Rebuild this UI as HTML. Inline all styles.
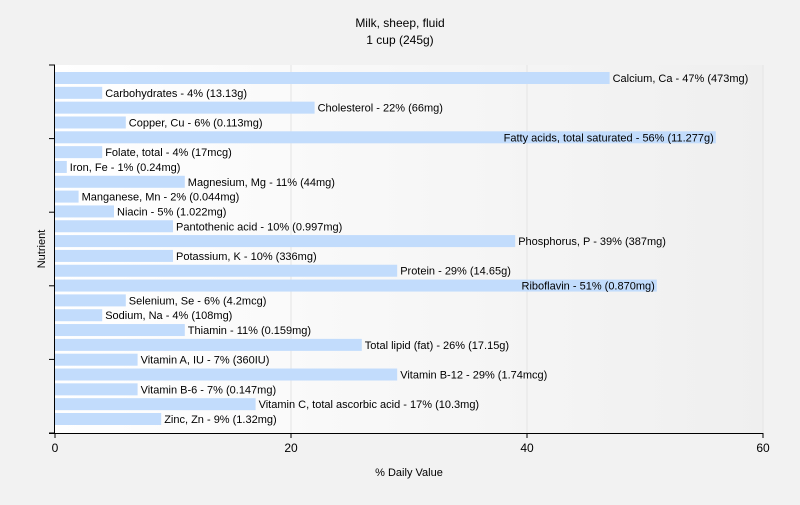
<!DOCTYPE html>
<html><head><meta charset="utf-8"><style>
body{margin:0;background:#f2f2f2;font-family:"Liberation Sans",sans-serif;}
svg text{font-family:"Liberation Sans",sans-serif;}
</style></head><body>
<svg id="chart" width="800" height="500" xmlns="http://www.w3.org/2000/svg">
<defs><linearGradient id="bg" x1="0" x2="1" y1="0" y2="0"><stop offset="0" stop-color="#ffffff"/><stop offset="1" stop-color="#efefef"/></linearGradient></defs>
<rect width="800" height="500" fill="#f2f2f2"/>
<text x="400" y="27" text-anchor="middle" font-size="12">Milk, sheep, fluid</text>
<text x="400" y="44" text-anchor="middle" font-size="12">1 cup (245g)</text>
<rect x="55" y="65" width="708" height="368" fill="url(#bg)"/>
<g id="grid"></g><g id="bars"></g><g id="axes"></g>
<text x="409" y="476" text-anchor="middle" font-size="11">% Daily Value</text>
<text transform="translate(45,249) rotate(-90)" text-anchor="middle" font-size="11">Nutrient</text>
</svg>
<script>
const categories=["Calcium, Ca","Carbohydrates","Cholesterol","Copper, Cu","Fatty acids, total saturated","Folate, total","Iron, Fe","Magnesium, Mg","Manganese, Mn","Niacin","Pantothenic acid","Phosphorus, P","Potassium, K","Protein","Riboflavin","Selenium, Se","Sodium, Na","Thiamin","Total lipid (fat)","Vitamin A, IU","Vitamin B-12","Vitamin B-6","Vitamin C, total ascorbic acid","Zinc, Zn"];
const values=[47,4,22,6,56,4,1,11,2,5,10,39,10,29,51,6,4,11,26,7,29,7,17,9];
const amounts=["473mg","13.13g","66mg","0.113mg","11.277g","17mcg","0.24mg","44mg","0.044mg","1.022mg","0.997mg","387mg","336mg","14.65g","0.870mg","4.2mcg","108mg","0.159mg","17.15g","360IU","1.74mcg","0.147mg","10.3mg","1.32mg"];
const xTicks=[0,20,40,60];
const NS="http://www.w3.org/2000/svg";
const x0=55,x1=763,y0=65,y1=433;
const xs=v=>x0+(v/60)*(x1-x0);
const band=(y1-y0-27)/(categories.length-1);
const yc=i=>y0+13+band*i;
function mk(t,a,p){const e=document.createElementNS(NS,t);for(const k in a)e.setAttribute(k,a[k]);p.appendChild(e);return e;}
const grid=document.getElementById('grid'),bars=document.getElementById('bars'),axes=document.getElementById('axes');
xTicks.forEach(t=>{if(t>0){const g=mk('line',{x1:xs(t),x2:xs(t),y1:y0,y2:y1,stroke:'#e4e4e4'},grid);

}
const tk=mk('line',{x1:xs(t),x2:xs(t),y1:y1,y2:y1+5,stroke:'#000'},axes);


const tl=mk('text',{x:xs(t),y:y1+19,'text-anchor':'middle','font-size':12},axes);tl.textContent=t;

});
categories.forEach((c,i)=>{const w=xs(values[i])-x0;const r=mk('rect',{x:x0,y:yc(i)-6,width:w,height:12,fill:'#c2dcfc'},bars);


const label=c+' - '+values[i]+'% ('+amounts[i]+')';
const t=mk('text',{x:xs(values[i])+3,y:yc(i)+4,'font-size':11,fill:'#000'},bars);t.textContent=label;


if(t.getComputedTextLength()+xs(values[i])+3>x1){t.setAttribute('x',xs(values[i])-2);t.setAttribute('text-anchor','end');}});
const ya=mk('line',{x1:x0-0.5,x2:x0-0.5,y1:y0,y2:y1,stroke:'#000'},axes);


const xa=mk('line',{x1:x0-6,x2:x1,y1:y1+0.5,y2:y1+0.5,stroke:'#000'},axes);


for(let k=0;k<=5;k++){const yy=y0+k*(y1-y0)/5;const l=mk('line',{x1:x0-6,x2:x0,y1:yy,y2:yy,stroke:'#000'},axes);

}
</script>
</body></html>
